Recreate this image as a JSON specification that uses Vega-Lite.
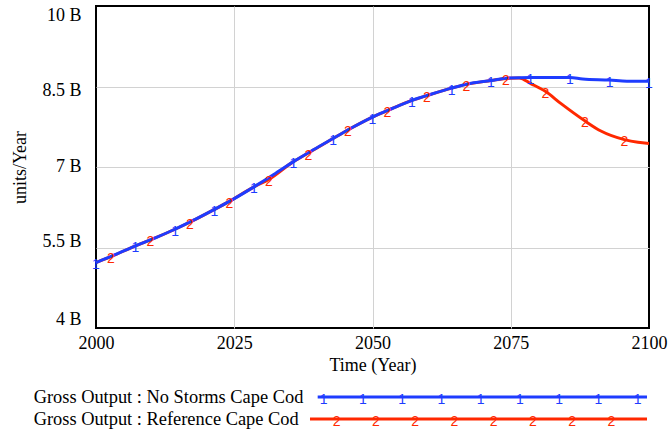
{
  "$schema": "https://vega.github.io/schema/vega-lite/v6.json",
  "padding": {"left": 10, "top": 5, "right": 3, "bottom": 3},
  "spacing": 13,
  "config": {
    "font": "Times New Roman, Liberation Serif, serif",
    "view": {"stroke": null},
    "text": {"font": "Times New Roman, Liberation Serif, serif"},
    "axis": {
      "labelFont": "Times New Roman, Liberation Serif, serif", "labelFontSize": 18, "labelColor": "black",
      "titleFont": "Times New Roman, Liberation Serif, serif", "titleFontSize": 18, "titleFontWeight": "normal", "titleColor": "black",
      "domain": false, "ticks": false, "tickSize": 0,
      "gridColor": "#d2d2d2", "gridWidth": 1, "gridOpacity": 1
    }
  },
  "resolve": {"scale": {"x": "independent", "y": "independent"}},
  "datasets": {
    "gross": [
      {"series": "Gross Output : No Storms Cape Cod", "year": 2000, "gross_output_b": 5.22, "mark": "1"},
      {"series": "Gross Output : No Storms Cape Cod", "year": 2003.57, "gross_output_b": 5.37, "mark": ""},
      {"series": "Gross Output : No Storms Cape Cod", "year": 2007.14, "gross_output_b": 5.53, "mark": "1"},
      {"series": "Gross Output : No Storms Cape Cod", "year": 2010.71, "gross_output_b": 5.68, "mark": ""},
      {"series": "Gross Output : No Storms Cape Cod", "year": 2014.29, "gross_output_b": 5.84, "mark": "1"},
      {"series": "Gross Output : No Storms Cape Cod", "year": 2017.86, "gross_output_b": 6.02, "mark": ""},
      {"series": "Gross Output : No Storms Cape Cod", "year": 2021.43, "gross_output_b": 6.21, "mark": "1"},
      {"series": "Gross Output : No Storms Cape Cod", "year": 2025, "gross_output_b": 6.41, "mark": ""},
      {"series": "Gross Output : No Storms Cape Cod", "year": 2028.57, "gross_output_b": 6.63, "mark": "1"},
      {"series": "Gross Output : No Storms Cape Cod", "year": 2032.14, "gross_output_b": 6.86, "mark": ""},
      {"series": "Gross Output : No Storms Cape Cod", "year": 2035.71, "gross_output_b": 7.10, "mark": "1"},
      {"series": "Gross Output : No Storms Cape Cod", "year": 2039.29, "gross_output_b": 7.32, "mark": ""},
      {"series": "Gross Output : No Storms Cape Cod", "year": 2042.86, "gross_output_b": 7.53, "mark": "1"},
      {"series": "Gross Output : No Storms Cape Cod", "year": 2046.43, "gross_output_b": 7.74, "mark": ""},
      {"series": "Gross Output : No Storms Cape Cod", "year": 2050, "gross_output_b": 7.93, "mark": "1"},
      {"series": "Gross Output : No Storms Cape Cod", "year": 2053.57, "gross_output_b": 8.09, "mark": ""},
      {"series": "Gross Output : No Storms Cape Cod", "year": 2057.14, "gross_output_b": 8.24, "mark": "1"},
      {"series": "Gross Output : No Storms Cape Cod", "year": 2060.71, "gross_output_b": 8.36, "mark": ""},
      {"series": "Gross Output : No Storms Cape Cod", "year": 2064.29, "gross_output_b": 8.47, "mark": "1"},
      {"series": "Gross Output : No Storms Cape Cod", "year": 2067.86, "gross_output_b": 8.56, "mark": ""},
      {"series": "Gross Output : No Storms Cape Cod", "year": 2071.43, "gross_output_b": 8.61, "mark": "1"},
      {"series": "Gross Output : No Storms Cape Cod", "year": 2074.5, "gross_output_b": 8.66, "mark": ""},
      {"series": "Gross Output : No Storms Cape Cod", "year": 2078.57, "gross_output_b": 8.67, "mark": "1"},
      {"series": "Gross Output : No Storms Cape Cod", "year": 2085.71, "gross_output_b": 8.67, "mark": "1"},
      {"series": "Gross Output : No Storms Cape Cod", "year": 2088, "gross_output_b": 8.64, "mark": ""},
      {"series": "Gross Output : No Storms Cape Cod", "year": 2092.86, "gross_output_b": 8.62, "mark": "1"},
      {"series": "Gross Output : No Storms Cape Cod", "year": 2096, "gross_output_b": 8.60, "mark": ""},
      {"series": "Gross Output : No Storms Cape Cod", "year": 2100, "gross_output_b": 8.60, "mark": "1"},
      {"series": "Gross Output : Reference Cape Cod", "year": 2000, "gross_output_b": 5.22, "mark": ""},
      {"series": "Gross Output : Reference Cape Cod", "year": 2002.68, "gross_output_b": 5.33, "mark": "2"},
      {"series": "Gross Output : Reference Cape Cod", "year": 2007.14, "gross_output_b": 5.53, "mark": ""},
      {"series": "Gross Output : Reference Cape Cod", "year": 2009.82, "gross_output_b": 5.64, "mark": "2"},
      {"series": "Gross Output : Reference Cape Cod", "year": 2014.29, "gross_output_b": 5.84, "mark": ""},
      {"series": "Gross Output : Reference Cape Cod", "year": 2016.96, "gross_output_b": 5.97, "mark": "2"},
      {"series": "Gross Output : Reference Cape Cod", "year": 2021.43, "gross_output_b": 6.21, "mark": ""},
      {"series": "Gross Output : Reference Cape Cod", "year": 2024.11, "gross_output_b": 6.36, "mark": "2"},
      {"series": "Gross Output : Reference Cape Cod", "year": 2028.57, "gross_output_b": 6.63, "mark": ""},
      {"series": "Gross Output : Reference Cape Cod", "year": 2031.25, "gross_output_b": 6.77, "mark": "2"},
      {"series": "Gross Output : Reference Cape Cod", "year": 2035.71, "gross_output_b": 7.10, "mark": ""},
      {"series": "Gross Output : Reference Cape Cod", "year": 2038.39, "gross_output_b": 7.26, "mark": "2"},
      {"series": "Gross Output : Reference Cape Cod", "year": 2042.86, "gross_output_b": 7.53, "mark": ""},
      {"series": "Gross Output : Reference Cape Cod", "year": 2045.54, "gross_output_b": 7.69, "mark": "2"},
      {"series": "Gross Output : Reference Cape Cod", "year": 2050, "gross_output_b": 7.93, "mark": ""},
      {"series": "Gross Output : Reference Cape Cod", "year": 2052.68, "gross_output_b": 8.05, "mark": "2"},
      {"series": "Gross Output : Reference Cape Cod", "year": 2057.14, "gross_output_b": 8.24, "mark": ""},
      {"series": "Gross Output : Reference Cape Cod", "year": 2059.82, "gross_output_b": 8.33, "mark": "2"},
      {"series": "Gross Output : Reference Cape Cod", "year": 2064.29, "gross_output_b": 8.47, "mark": ""},
      {"series": "Gross Output : Reference Cape Cod", "year": 2066.96, "gross_output_b": 8.54, "mark": "2"},
      {"series": "Gross Output : Reference Cape Cod", "year": 2071.43, "gross_output_b": 8.61, "mark": ""},
      {"series": "Gross Output : Reference Cape Cod", "year": 2074.11, "gross_output_b": 8.65, "mark": "2"},
      {"series": "Gross Output : Reference Cape Cod", "year": 2076.5, "gross_output_b": 8.66, "mark": ""},
      {"series": "Gross Output : Reference Cape Cod", "year": 2078.7, "gross_output_b": 8.55, "mark": ""},
      {"series": "Gross Output : Reference Cape Cod", "year": 2081.25, "gross_output_b": 8.41, "mark": "2"},
      {"series": "Gross Output : Reference Cape Cod", "year": 2084.1, "gross_output_b": 8.18, "mark": ""},
      {"series": "Gross Output : Reference Cape Cod", "year": 2088.39, "gross_output_b": 7.86, "mark": "2"},
      {"series": "Gross Output : Reference Cape Cod", "year": 2091.3, "gross_output_b": 7.67, "mark": ""},
      {"series": "Gross Output : Reference Cape Cod", "year": 2095.54, "gross_output_b": 7.51, "mark": "2"},
      {"series": "Gross Output : Reference Cape Cod", "year": 2098, "gross_output_b": 7.46, "mark": ""},
      {"series": "Gross Output : Reference Cape Cod", "year": 2100, "gross_output_b": 7.44, "mark": ""}
    ],
    "legend_series": [
      {"series": "Gross Output : No Storms Cape Cod"},
      {"series": "Gross Output : Reference Cape Cod"}
    ],
    "legend_markers": [
      {"series": "Gross Output : No Storms Cape Cod", "marker": "1", "slot": 0},
      {"series": "Gross Output : No Storms Cape Cod", "marker": "1", "slot": 1},
      {"series": "Gross Output : No Storms Cape Cod", "marker": "1", "slot": 2},
      {"series": "Gross Output : No Storms Cape Cod", "marker": "1", "slot": 3},
      {"series": "Gross Output : No Storms Cape Cod", "marker": "1", "slot": 4},
      {"series": "Gross Output : No Storms Cape Cod", "marker": "1", "slot": 5},
      {"series": "Gross Output : No Storms Cape Cod", "marker": "1", "slot": 6},
      {"series": "Gross Output : No Storms Cape Cod", "marker": "1", "slot": 7},
      {"series": "Gross Output : No Storms Cape Cod", "marker": "1", "slot": 8},
      {"series": "Gross Output : Reference Cape Cod", "marker": "2", "slot": 0},
      {"series": "Gross Output : Reference Cape Cod", "marker": "2", "slot": 1},
      {"series": "Gross Output : Reference Cape Cod", "marker": "2", "slot": 2},
      {"series": "Gross Output : Reference Cape Cod", "marker": "2", "slot": 3},
      {"series": "Gross Output : Reference Cape Cod", "marker": "2", "slot": 4},
      {"series": "Gross Output : Reference Cape Cod", "marker": "2", "slot": 5},
      {"series": "Gross Output : Reference Cape Cod", "marker": "2", "slot": 6},
      {"series": "Gross Output : Reference Cape Cod", "marker": "2", "slot": 7}
    ]
  },
  "vconcat": [
    {
      "width": 553,
      "height": 322,
      "view": {"stroke": "black", "strokeWidth": 2},
      "data": {"name": "gross"},
      "encoding": {
        "x": {
          "field": "year", "type": "quantitative",
          "scale": {"domain": [2000, 2100], "nice": false, "zero": false},
          "axis": {"title": "Time (Year)", "values": [2000, 2025, 2050, 2075, 2100], "format": "d", "labelFlush": false, "labelPadding": 6, "titlePadding": 4,
                   "gridColor": {"condition": {"test": "datum.value == 2000 || datum.value == 2100", "value": "transparent"}, "value": "#d2d2d2"}}
        },
        "y": {
          "field": "gross_output_b", "type": "quantitative",
          "scale": {"domain": [4, 10], "nice": false, "zero": false},
          "axis": {"title": "units/Year", "values": [4, 5.5, 7, 8.5, 10], "labelExpr": "datum.value + ' B'", "labelFlush": true, "labelPadding": 15, "titlePadding": 12,
                   "labelOffset": {"expr": "datum.value == 8.5 ? 4 : datum.value == 5.5 ? -6 : datum.value == 7 ? -1 : 0"},
                   "gridColor": {"condition": {"test": "datum.value == 4 || datum.value == 10", "value": "transparent"}, "value": "#d2d2d2"}}
        },
        "color": {
          "field": "series", "type": "nominal",
          "scale": {"domain": ["Gross Output : No Storms Cape Cod", "Gross Output : Reference Cape Cod"], "range": ["#1e3cff", "#ff2800"]},
          "legend": null
        }
      },
      "layer": [
        {
          "transform": [{"filter": "datum.series == 'Gross Output : Reference Cape Cod'"}],
          "mark": {"type": "line", "strokeWidth": 3, "interpolate": "monotone"}
        },
        {
          "transform": [{"filter": "datum.series == 'Gross Output : No Storms Cape Cod'"}],
          "mark": {"type": "line", "strokeWidth": 3, "interpolate": "monotone"}
        },
        {
          "transform": [{"filter": "datum.mark != ''"}],
          "mark": {"type": "text", "font": "Liberation Sans", "fontSize": 14, "baseline": "alphabetic", "align": "center", "dy": 6.5},
          "encoding": {"text": {"field": "mark"}}
        }
      ]
    },
    {
      "width": 553,
      "height": 22,
      "view": {"stroke": null},
      "encoding": {
        "y": {
          "field": "series", "type": "nominal",
          "scale": {"type": "point", "padding": 0, "domain": ["Gross Output : No Storms Cape Cod", "Gross Output : Reference Cape Cod"]},
          "axis": null
        }
      },
      "layer": [
        {
          "data": {"name": "legend_series"},
          "mark": {"type": "text", "align": "left", "baseline": "middle", "font": "Times New Roman, Liberation Serif, serif", "fontSize": 18.4, "color": "black"},
          "encoding": {
            "x": {"datum": -7.39, "type": "quantitative", "scale": {"domain": [-5.801, 8.288], "nice": false, "zero": false}, "axis": null},
            "text": {"field": "series"}
          }
        },
        {
          "data": {"name": "legend_series"},
          "transform": [{"filter": "datum.series == 'Gross Output : No Storms Cape Cod'"}],
          "mark": {"type": "rule", "strokeWidth": 3},
          "encoding": {
            "x": {"datum": -0.153, "type": "quantitative"},
            "x2": {"datum": 8.237},
            "color": {"field": "series", "type": "nominal", "legend": null}
          }
        },
        {
          "data": {"name": "legend_series"},
          "transform": [{"filter": "datum.series == 'Gross Output : Reference Cape Cod'"}],
          "mark": {"type": "rule", "strokeWidth": 3},
          "encoding": {
            "x": {"datum": -0.349, "type": "quantitative"},
            "x2": {"datum": 8.237},
            "color": {"field": "series", "type": "nominal", "legend": null}
          }
        },
        {
          "data": {"name": "legend_markers"},
          "transform": [{"filter": "datum.marker == '1'"}],
          "mark": {"type": "text", "font": "Liberation Sans", "fontSize": 14, "baseline": "alphabetic", "align": "center", "dy": 6.5},
          "encoding": {
            "x": {"field": "slot", "type": "quantitative"},
            "text": {"field": "marker"},
            "color": {"field": "series", "type": "nominal", "legend": null}
          }
        },
        {
          "data": {"name": "legend_markers"},
          "transform": [{"filter": "datum.marker == '2'"}],
          "mark": {"type": "text", "font": "Liberation Sans", "fontSize": 14, "baseline": "alphabetic", "align": "center", "dy": 6.5, "dx": 13},
          "encoding": {
            "x": {"field": "slot", "type": "quantitative"},
            "text": {"field": "marker"},
            "color": {"field": "series", "type": "nominal", "legend": null}
          }
        }
      ]
    }
  ]
}
